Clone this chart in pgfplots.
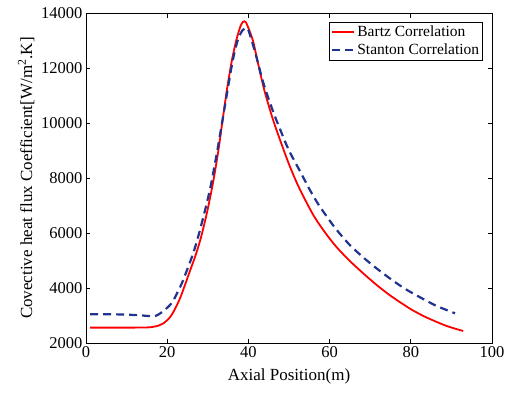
\documentclass[border=0pt]{standalone}
\usepackage{fontspec}
\setmainfont{Liberation Serif}
\usepackage{pgfplots}
\pgfplotsset{compat=1.18}
\definecolor{bartz}{rgb}{1,0,0}
\definecolor{stanton}{rgb}{0.12,0.2,0.56}
\begin{document}
\begin{tikzpicture}
\begin{axis}[
  scale only axis, width=406pt, height=330pt,
  xmin=0, xmax=100, ymin=2000, ymax=14000,
  xtick={0,20,...,100}, ytick={2000,4000,...,14000},
  scaled ticks=false,
  tick align=inside,
  major tick length=4.5pt,
  tick style={black, line width=0.8pt},
  axis line style={line width=0.8pt},
  /pgf/number format/1000 sep={},
  /pgf/number format/fixed,
  /pgf/number format/assume math mode=true,
  ticklabel style={font=\fontsize{16.5}{20}\selectfont},
  label style={font=\fontsize{17}{20}\selectfont},
  xlabel={Axial Position(m)},
  xlabel style={yshift=-4pt},
  ylabel={Covective heat flux Coefficient[W/m\textsuperscript{2}.K]},
  legend style={at={(1,1)}, anchor=north east, xshift=-9pt, yshift=-9pt,
    font=\fontsize{15.5}{18}\selectfont, draw=black, line width=0.6pt,
    inner sep=1.5pt, row sep=2pt},
  legend cell align=left,
  legend image code/.code={\draw[#1, sharp plot] plot coordinates {(0pt,0pt) (11pt,0pt) (22pt,0pt)};},
]
\addplot[bartz, line width=1.8pt, smooth, tension=0.5] coordinates {
(1,2560) (12,2560) (16,2575) (18,2640) (19,2710) (20,2830) (21,3000)
(22,3260) (23.2,3640) (24.4,4120) (25.6,4620) (26.9,5150) (28.1,5720)
(29.1,6300) (30.1,6950) (31.4,7920) (32.6,9000) (33.6,10050) (34.7,11200)
(35.9,12250) (37,13000) (38,13500) (38.6,13670) (39,13700) (39.4,13660)
(40.2,13380) (41.2,12950) (42.4,12150) (44,11150) (46,10150) (48,9300)
(50,8500) (52,7800) (54,7200) (56,6650) (58,6200) (60,5800) (62,5440)
(65,4980) (68,4570) (70,4310) (72,4060) (75,3720) (78,3420) (80,3230)
(83,2990) (86,2790) (89,2610) (92.9,2436)
};
\addlegendentry{Bartz Correlation}
\addplot[stanton, line width=2.2pt, dash pattern=on 8pt off 5pt, smooth, tension=0.5] coordinates {
(1,3045) (8,3040) (13,3010) (16,2975) (17.2,2990) (18.2,3070) (19.6,3230)
(21.1,3450) (22.3,3770) (23.6,4170) (25,4700) (26.4,5260) (27.5,5800)
(28.5,6350) (30.5,7560) (32.2,8880) (33.5,10000) (34.7,11050) (35.8,12000)
(36.7,12650) (37.6,13100) (38.6,13380) (39.5,13440) (40,13380) (41.7,12550)
(43.7,11450) (46,10450) (48,9700) (50,9000) (52.7,8250) (55.2,7550)
(57.2,7050) (59.3,6600) (61.6,6140) (65,5560) (68.7,5060) (71.6,4710)
(75.3,4300) (78.6,3970) (82.3,3660) (86.4,3345) (90.9,3080)
};
\addlegendentry{Stanton Correlation}
\end{axis}
\pgfresetboundingbox
\path[use as bounding box] (-86pt,-49pt) rectangle (426pt,343pt);
\end{tikzpicture}
\end{document}
